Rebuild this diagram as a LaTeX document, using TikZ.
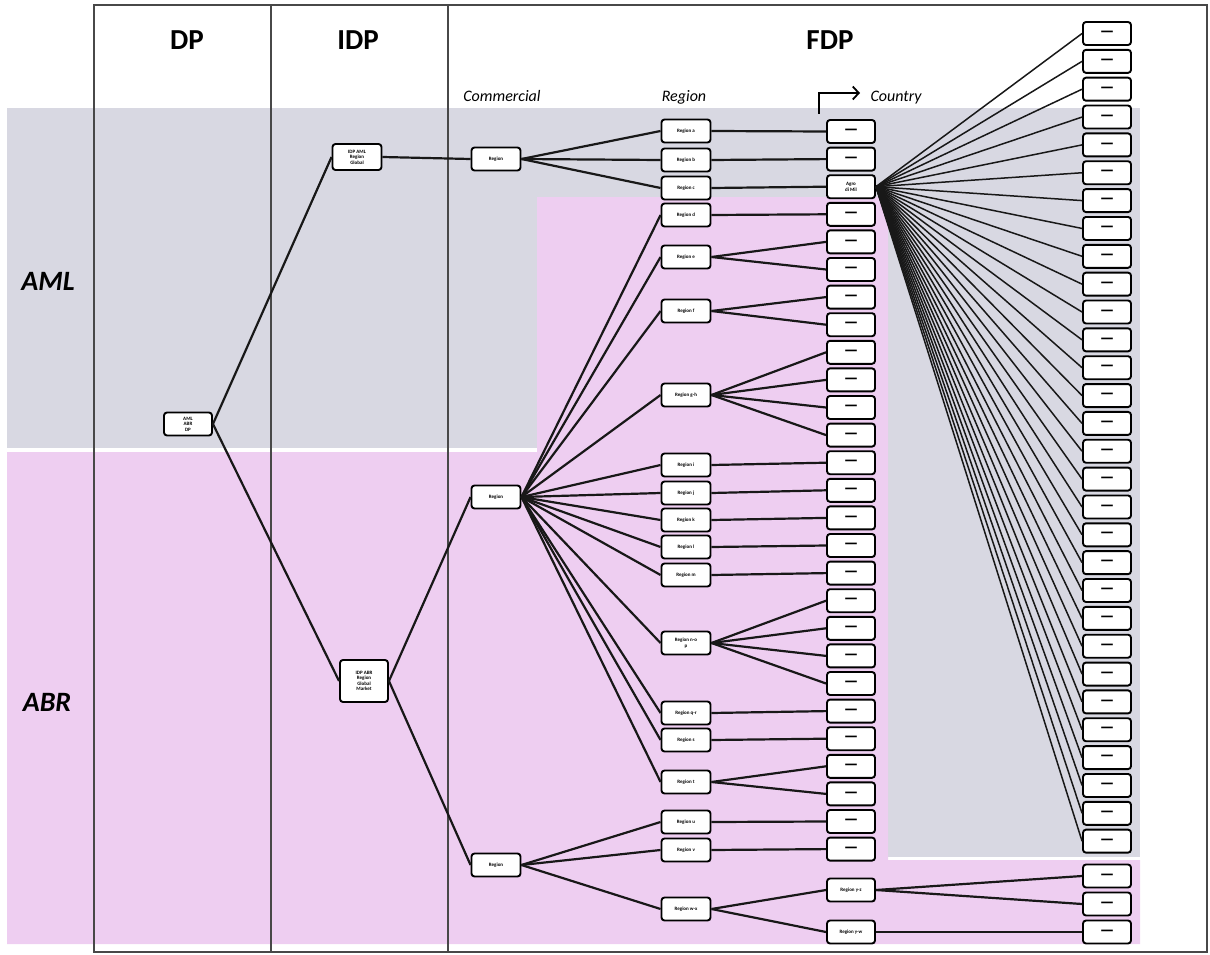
\documentclass[tikz,border=0pt]{standalone}
\usepackage{fontspec}
\setmainfont{Carlito}
\newfontfamily\dashfont{DejaVu Sans}
\usetikzlibrary{arrows.meta}

\definecolor{amlgrey}{RGB}{216,216,226}
\definecolor{abrpink}{RGB}{238,206,241}
\definecolor{framecol}{RGB}{72,72,72}
\definecolor{linkcol}{RGB}{24,24,24}

\tikzset{
  unitbox/.style={draw=black, line width=1.9pt, rounded corners=3pt, fill=white,
    inner sep=0pt, align=center, minimum width=49pt, minimum height=23pt,
    font=\fontsize{5}{5.5}\selectfont\bfseries},
  ctry/.style={unitbox, minimum width=48pt, font=\dashfont\fontsize{13}{13}\selectfont\bfseries},
  link/.style={draw=linkcol, line width=2.2pt},
  fan/.style={draw=linkcol, line width=1.5pt},
  colhead/.style={font=\fontsize{29}{30}\selectfont\bfseries},
  rowhead/.style={font=\fontsize{28}{30}\selectfont\bfseries\itshape},
  levelhead/.style={font=\fontsize{16}{17}\selectfont\itshape},
  framerule/.style={draw=framecol, line width=2pt}
}

\begin{document}
\begin{tikzpicture}[x=1pt, y=-1pt]
\useasboundingbox (0,0) rectangle (1210,955);

% ---- background bands ----
\fill[amlgrey] (7,108) rectangle (1140,448);
\fill[amlgrey] (888,108) rectangle (1140,857);
\fill[abrpink] (7,452) -- (537,452) -- (537,197) -- (888,197) -- (888,860)
  -- (1140,860) -- (1140,944) -- (7,944) -- cycle;

% ---- column frame ----
\draw[framerule] (94,5) rectangle (1207,952);
\draw[framerule] (271,5) -- (271,952);
\draw[framerule] (448,5) -- (448,952);

% ---- headings ----
\node[colhead] (hdp) at (187,40) {DP};
\node[colhead] (hidp) at (358,40) {IDP};
\node[colhead] (hfdp) at (830,40) {FDP};
\node[rowhead] (haml) at (48,281) {AML};
\node[rowhead] (habr) at (47,702) {ABR};
\node[levelhead] (lcom) at (502,96) {Commercial};
\node[levelhead] (lreg) at (684,97) {Region};
\node[levelhead] (lcty) at (896,98) {Country};
\coordinate (arrS) at (819,114);
\coordinate (arrE) at (860,93);
\draw[line width=1.8pt, -{Straight Barb[length=6pt,width=13pt]}] (arrS) |- (arrE);

% ---- DP / IDP ----
\node[unitbox, minimum width=48pt] (dp) at (188,424) {AML\\ABR\\DP};
\node[unitbox, minimum height=26pt] (idpA) at (357,157) {IDP AML\\Region\\Global};
\node[unitbox, minimum width=48pt, minimum height=42pt] (idpB) at (364,681) {IDP ABR\\Region\\Global\\Market};

% ---- commercial level ----
\node[unitbox] (comA) at (496,159) {Region};
\node[unitbox] (comB) at (496,497) {Region};
\node[unitbox] (comC) at (496,865) {Region};

% ---- region level ----
\foreach \n/\y/\t in {r1/131/{Region a}, r2/160/{Region b}, r3/188/{Region c},
    r4/215/{Region d}, r5/257/{Region e}, r6/311/{Region f}, r7/395/{Region g-h},
    r8/465/{Region i}, r9/493/{Region j}, r10/520/{Region k}, r11/547/{Region l},
    r12/575/{Region m}, r13/643/{Region n-o\\ p}, r14/713/{Region q-r},
    r15/740/{Region s}, r16/782/{Region t}, r17/822/{Region u}, r18/850/{Region v},
    r19/909/{Region w-x}}
  \node[unitbox] (\n) at (686,\y) {\t};

% ---- country level ----
\foreach \k in {0,...,26}{
  \ifnum\k=2
    \node[unitbox, minimum width=48pt] (c\k) at (851,{131.5+27.6*\k}) {Agro\\di Mil};
  \else
    \node[ctry] (c\k) at (851,{131.5+27.6*\k}) {—};
  \fi
}
\node[unitbox, minimum width=48pt] (b1) at (851,890) {Region y-z};
\node[unitbox, minimum width=48pt] (b2) at (851,932) {Region y-w};

% ---- outer country column ----
\foreach \k in {0,...,29}
  \node[ctry] (f\k) at (1107,{33.5+27.85*\k}) {—};
\node[ctry] (g1) at (1107,876) {—};
\node[ctry] (g2) at (1107,904) {—};
\node[ctry] (g3) at (1107,932) {—};

% ---- connectors ----
\draw[link] (dp.east) -- (idpA.west);
\draw[link] (dp.east) -- (idpB.west);
\draw[link] (idpA.east) -- (comA.west);
\draw[link] (idpB.east) -- (comB.west);
\draw[link] (idpB.east) -- (comC.west);

\foreach \r in {r1,r2,r3} \draw[link] (comA.east) -- (\r.west);
\foreach \r in {r4,r5,r6,r7,r8,r9,r10,r11,r12,r13,r14,r15,r16}
  \draw[link] (comB.east) -- (\r.west);
\foreach \r in {r17,r18,r19} \draw[link] (comC.east) -- (\r.west);

\foreach \r/\c in {r1/c0, r2/c1, r3/c2, r4/c3, r5/c4, r5/c5, r6/c6, r6/c7,
    r7/c8, r7/c9, r7/c10, r7/c11, r8/c12, r9/c13, r10/c14, r11/c15, r12/c16,
    r13/c17, r13/c18, r13/c19, r13/c20, r14/c21, r15/c22, r16/c23, r16/c24,
    r17/c25, r18/c26, r19/b1, r19/b2}
  \draw[link] (\r.east) -- (\c.west);

\foreach \k in {0,...,29} \draw[fan] (c2.east) -- (f\k.west);
\draw[link] (b1.east) -- (g1.west);
\draw[link] (b1.east) -- (g2.west);
\draw[link] (b2.east) -- (g3.west);
\end{tikzpicture}
\end{document}
